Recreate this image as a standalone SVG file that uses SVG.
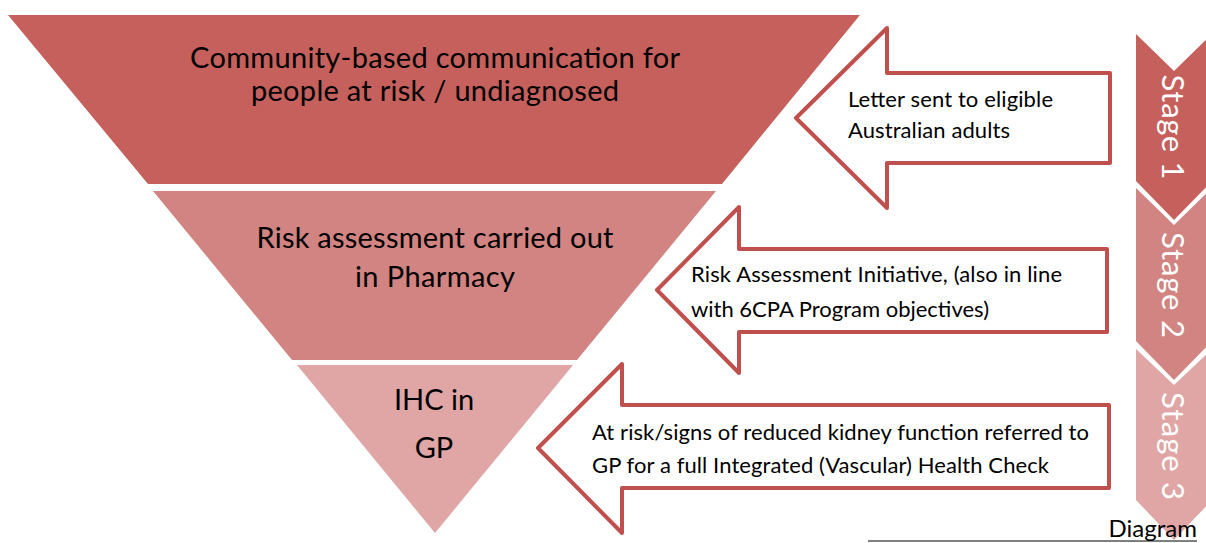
<svg xmlns="http://www.w3.org/2000/svg" width="1206" height="543" viewBox="0 0 1206 543">
<style>
.big{font-family:Lato,"Open Sans",sans-serif;font-size:29px;fill:#000;text-anchor:middle}
.sm{font-family:Lato,"Open Sans",sans-serif;font-size:22px;fill:#000}
.arrow{fill:#fff;stroke:#c0504d;stroke-width:4;stroke-linejoin:round}
.stage{font-family:Lato,"Open Sans",sans-serif;font-size:31px;fill:#fff;text-anchor:middle}
.l1{fill:#c5605c}.l2{fill:#d18481}.l3{fill:#dfa6a5}
</style>
<rect width="1206" height="543" fill="#fff"/>
<g id="level1">
<polygon class="l1" points="8,15 860,15 722,184 148,184"/>
<text class="big" x="435" y="68" textLength="490">Community-based communication for</text>
<text class="big" x="435" y="101" textLength="368">people at risk / undiagnosed</text>
</g>
<g id="level2">
<polygon class="l2" points="153,191 716,191 577,360 292,360"/>
<text class="big" x="435" y="248" textLength="357">Risk assessment carried out</text>
<text class="big" x="435" y="287" textLength="160">in Pharmacy</text>
</g>
<g id="level3">
<polygon class="l3" points="297,365 573,365 435,533"/>
<text class="big" x="434" y="410">IHC in</text>
<text class="big" x="434" y="458">GP</text>
</g>
<g id="connectors">
<g id="arrow1">
<path class="arrow" d="M796,118 L887,28 L887,73 L1110,73 L1110,163 L887,163 L887,208 Z"/>
<text class="sm" x="848" y="107" textLength="205">Letter sent to eligible</text>
<text class="sm" x="848" y="138" textLength="162">Australian adults</text>
</g>
<g id="arrow2">
<path class="arrow" d="M657,290 L739,207 L739,249 L1107,249 L1107,332 L739,332 L739,373 Z"/>
<text class="sm" x="691" y="282" textLength="371">Risk Assessment Initiative, (also in line</text>
<text class="sm" x="691" y="317" textLength="298">with 6CPA Program objectives)</text>
</g>
<g id="arrow3">
<path class="arrow" d="M538,448 L622,364 L622,405 L1109,405 L1109,488 L622,488 L622,533 Z"/>
<text class="sm" x="592" y="440" textLength="497">At risk/signs of reduced kidney function referred to</text>
<text class="sm" x="592" y="473" textLength="457">GP for a full Integrated (Vascular) Health Check</text>
</g>
</g>
<g id="stage1">
<polygon class="l1" points="1136,34 1174,71 1212,34 1212,181 1174,220 1136,181"/>
<text class="stage" transform="translate(1162,127) rotate(90)" textLength="105">Stage 1</text>
</g>
<g id="stage2">
<polygon class="l2" points="1136,188 1174,225 1212,188 1212,341 1174,380 1136,341"/>
<text class="stage" transform="translate(1162,285) rotate(90)" textLength="106">Stage 2</text>
</g>
<g id="stage3">
<polygon class="l3" points="1136,349 1174,385 1212,349 1212,500 1174,540 1136,500"/>
<text class="stage" transform="translate(1162,446) rotate(90)" textLength="108">Stage 3</text>
</g>
<g id="caption">
<line x1="868" y1="541" x2="1197" y2="541" stroke="#000" stroke-width="1.2"/>
<text class="sm" x="1197" y="537" text-anchor="end" style="font-size:24px">Diagram</text>
</g>
</svg>
